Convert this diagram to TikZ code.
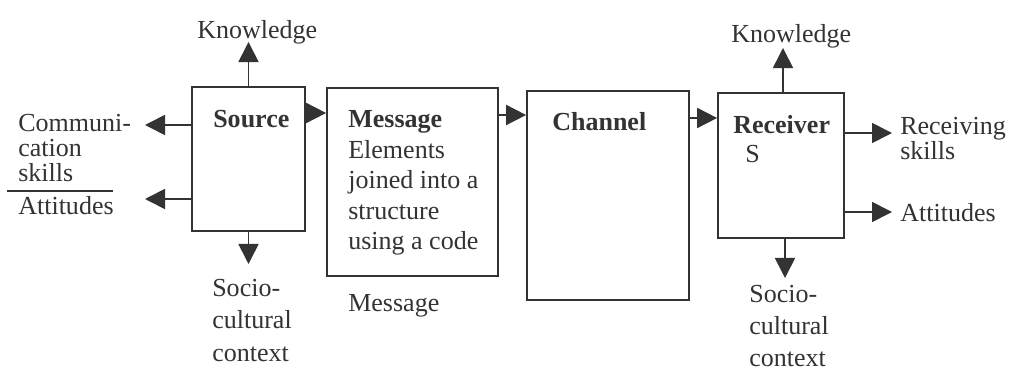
\documentclass[tikz,border=0pt]{standalone}
\usepackage{fontspec}
\setmainfont{Liberation Serif}
\usetikzlibrary{arrows.meta, positioning}
\definecolor{ink}{HTML}{333333}
\tikzstyle{arrow} = [draw=ink, line width=1.2pt, -{Triangle[length=0.5cm,width=0.5cm]}]
\tikzstyle{blk} = [draw=ink, line width=1.2pt, inner sep=0pt]
\tikzstyle{txt} = [text=ink, inner sep=0pt, anchor=base west, align=left, font=\fontsize{18.5}{22}\selectfont]

\begin{document}
\begin{tikzpicture}[x=0.025cm, y=-0.025cm]
		\path[use as bounding box, fill=white] (0,0) rectangle (1011,373);
		% the four blocks
		\node (src) [blk, minimum width=2.825cm, minimum height=3.6cm] at (248.5,159) {};
		\node (msg) [blk, minimum width=4.275cm, minimum height=4.7cm] at (412.5,182) {};
		\node (chn) [blk, minimum width=4.05cm, minimum height=5.225cm] at (608,195.5) {};
		\node (rcv) [blk, minimum width=3.15cm, minimum height=3.625cm] at (781,165.5) {};
		% texts inside the blocks
		\node (srcname) [txt] at (213,128) {\textbf{Source}};
		\node (msgtxt) [txt, font=\fontsize{18.5}{21.7}\selectfont] at (348,250) {\textbf{Message}\\Elements\\joined into a\\structure\\using a code};
		\node (msglbl) [txt] at (348,311) {Message};
		\node (chnname) [txt] at (552,131) {\textbf{Channel}};
		\node (rcvname) [txt, font=\fontsize{18.5}{21.3}\selectfont] at (733,163) {\textbf{Receiver}\\\hspace{0.3cm}S};
		% source side
		\node (srcknow) [txt] at (197,39) {Knowledge};
		\node (srcskill) [txt, font=\fontsize{18.5}{17.8}\selectfont] at (18,182) {Communi-\\cation\\skills};
		\node (srcatt) [txt] at (18,215) {Attitudes};
		\node (srcsoc) [txt, font=\fontsize{18.5}{23}\selectfont] at (212,361) {Socio-\\cultural\\context};
		\coordinate (divl) at (7,191);
		\coordinate (divr) at (113,191);
		\draw [ink, line width=0.8pt] (divl) -- (divr);
		\coordinate (srcup) at (248.5,42);
		\coordinate (srcdn) at (248.5,264);
		\coordinate (srcl1) at (145,125);
		\coordinate (srcl2) at (145,199);
		\draw [arrow] (src.north) -- (srcup);
		\draw [arrow] (src.south) -- (srcdn);
		\draw [arrow] (src.west |- srcl1) -- (srcl1);
		\draw [arrow] (src.west |- srcl2) -- (srcl2);
		% receiver side
		\node (rcvknow) [txt] at (731,43) {Knowledge};
		\node (rcvskill) [txt, font=\fontsize{18.5}{17.8}\selectfont] at (900,160) {Receiving\\skills};
		\node (rcvatt) [txt] at (900,222) {Attitudes};
		\node (rcvsoc) [txt, font=\fontsize{18.5}{22.5}\selectfont] at (749,366) {Socio-\\cultural\\context};
		\coordinate (rcvup) at (783,48);
		\coordinate (rcvdn) at (785,278);
		\coordinate (rcvr1) at (892,133);
		\coordinate (rcvr2) at (892,212);
		\draw [arrow] (rcv.north -| rcvup) -- (rcvup);
		\draw [arrow] (rcv.south -| rcvdn) -- (rcvdn);
		\draw [arrow] (rcv.east |- rcvr1) -- (rcvr1);
		\draw [arrow] (rcv.east |- rcvr2) -- (rcvr2);
		% the chain
		\draw [arrow] (src.east |- 0,113) -- (msg.west |- 0,113);
		\draw [arrow] (msg.east |- 0,115) -- (chn.west |- 0,115);
		\draw [arrow] (chn.east |- 0,118) -- (rcv.west |- 0,118);
\end{tikzpicture}
\end{document}
